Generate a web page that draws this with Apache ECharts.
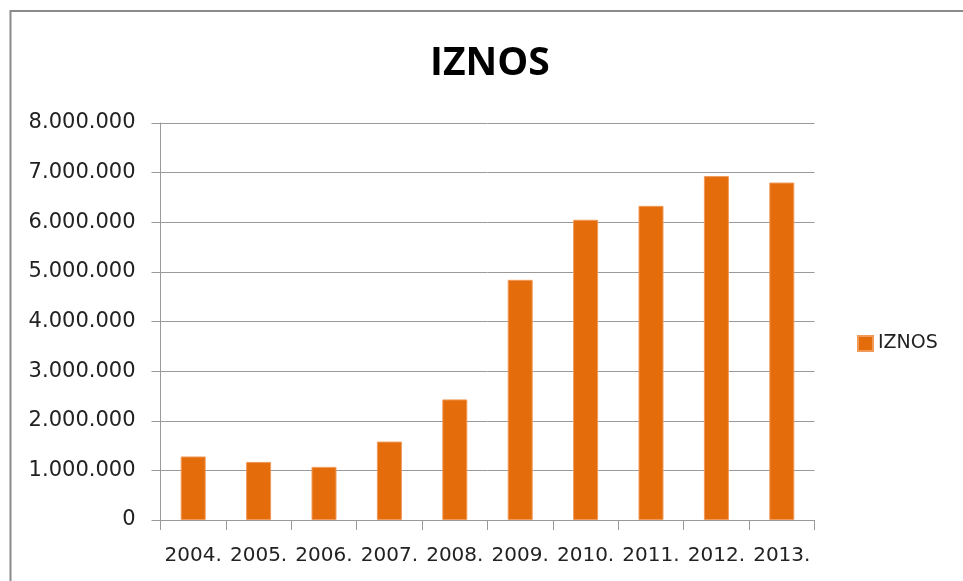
<!DOCTYPE html>
<html>
<head>
<meta charset="utf-8">
<script src="https://cdn.jsdelivr.net/npm/echarts@6/dist/echarts.min.js"></script>
<style>
html,body{margin:0;padding:0;background:#fff;}
#chart{width:963px;height:581px;}
</style>
</head>
<body>
<div id="chart"></div>
<script>
var categories = ['2004.', '2005.', '2006.', '2007.', '2008.', '2009.', '2010.', '2011.', '2012.', '2013.'];
var seriesName = 'IZNOS';
var values = [1280000, 1170000, 1070000, 1580000, 2430000, 4840000, 6050000, 6330000, 6930000, 6800000];
var yMin = 0, yMax = 8000000, yStep = 1000000;

function fmt(v) {
  return String(v).replace(/\B(?=(\d{3})+(?!\d))/g, '.');
}

var chart = echarts.init(document.getElementById('chart'), null, {renderer: 'canvas'});
chart.setOption({
  animation: false,
  backgroundColor: '#ffffff',
  title: {
    text: 'IZNOS',
    left: 425,
    top: 39,
    textStyle: {fontFamily: 'Open Sans', fontWeight: 'bold', fontSize: 39, color: '#000'}
  },
  legend: {
    data: [seriesName],
    orient: 'vertical',
    left: 852,
    top: 329,
    icon: 'rect',
    itemWidth: 15,
    itemHeight: 15,
    textStyle: {fontFamily: 'DejaVu Sans', fontSize: 19, color: '#222'}
  },
  graphic: [{
    type: 'rect',
    shape: {x: 10.5, y: 11, width: 2000, height: 2000},
    style: {fill: 'none', stroke: '#8a8a8a', lineWidth: 2},
    silent: true,
    z: 100
  }],
  grid: {left: 160.5, top: 123, width: 654, height: 397, containLabel: false},
  xAxis: {
    type: 'category',
    data: categories,
    axisLine: {lineStyle: {color: '#999', width: 1}},
    axisTick: {show: true, length: 10, lineStyle: {color: '#999'}},
    axisLabel: {fontFamily: 'DejaVu Sans', fontSize: 20, color: '#222', margin: 26, interval: 0}
  },
  yAxis: {
    type: 'value',
    min: yMin, max: yMax, interval: yStep,
    axisLine: {show: true, lineStyle: {color: '#999', width: 1}},
    axisTick: {show: true, length: 9, lineStyle: {color: '#999'}},
    splitLine: {lineStyle: {color: '#9a9a9a', width: 1}},
    axisLabel: {fontFamily: 'DejaVu Sans', fontSize: 21, color: '#222', margin: 25, formatter: fmt}
  },
  series: [{
    name: seriesName,
    type: 'bar',
    data: values,
    barWidth: 25,
    itemStyle: {color: '#E46C0A', borderColor: '#f09a5a', borderWidth: 1}
  }]
});
</script>
</body>
</html>
